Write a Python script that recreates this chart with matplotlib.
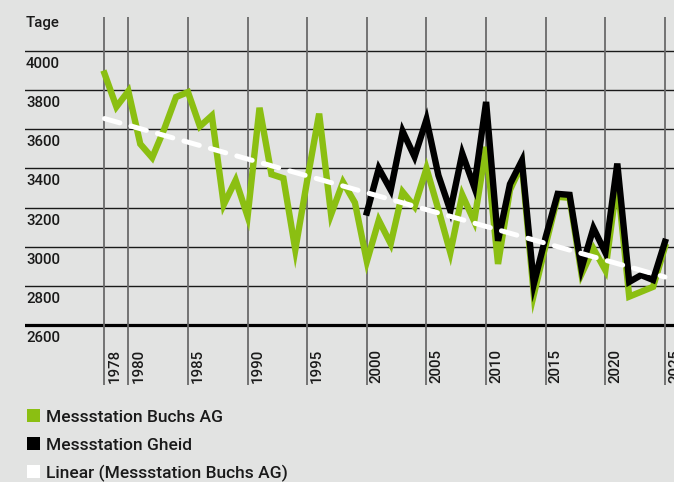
import matplotlib
matplotlib.use('Agg')
import matplotlib.pyplot as plt
import matplotlib.transforms as mtransforms
from matplotlib.patches import Rectangle

# data (Tage)
years_buchs = list(range(1978, 2026))
buchs = [3885, 3715, 3795, 3525, 3455, 3600, 3765, 3790, 3615, 3670,   # 1978-1987
         3215, 3340, 3155, 3710, 3370, 3350, 2985, 3340, 3680, 3165,   # 1988-1997
         3330, 3225, 2925, 3135, 3015, 3280, 3205, 3400, 3190, 2970,   # 1998-2007
         3265, 3130, 3510, 2912, 3290, 3420, 2755, 3010, 3255, 3250,   # 2008-2017
         2860, 2990, 2880, 3340, 2745, 2770, 2795, 3000]               # 2018-2025

years_gheid = list(range(2000, 2026))
gheid = [3175, 3400, 3290, 3590, 3460, 3650, 3365, 3185, 3476, 3306,
         3740, 3030, 3320, 3440, 2810, 3050, 3270, 3265, 2890, 3095,
         2970, 3425, 2820, 2855, 2830, 3025]

# linear trend of Buchs AG (endpoints)
trend_years = [1978, 2025]
trend_values = [3655, 2845]

year_ticks = [1978, 1980, 1985, 1990, 1995, 2000, 2005, 2010, 2015, 2020, 2025]
value_ticks = [2600, 2800, 3000, 3200, 3400, 3600, 3800, 4000]
labels = ['Messstation Buchs AG', 'Messstation Gheid', 'Linear (Messstation Buchs AG)']

green = '#8bbf12'
bg = '#e2e3e2'
txt = '#1a1a1a'
plt.rcParams['font.family'] = ['Roboto', 'DejaVu Sans']
plt.rcParams['font.weight'] = 'medium'

W, H = 674, 482
fig = plt.figure(figsize=(W / 100, H / 100), dpi=100, facecolor=bg)
ax = fig.add_axes([25 / W, 1 - 385 / H, 1 - 25 / W, 368 / H])
ax.set_facecolor(bg)
for s in ax.spines.values():
    s.set_visible(False)
ax.set_xticks([])
ax.set_yticks([])
ax.set_xlim(1971.334, 2025.755)
ax.set_ylim(2293.4, 4173.9)

# grid
for v in value_ticks[1:]:
    ax.axhline(v, color='#1a1a1a', lw=1.0, zorder=1)
ax.axhline(2600, color='black', lw=2.3, zorder=1)
for yr in year_ticks:
    ax.axvline(yr, color='#6a6a6a', lw=1.3, zorder=1)

# series
ax.plot(years_buchs, buchs, color=green, lw=4.6, solid_joinstyle='miter', zorder=3)
ax.plot(years_gheid, gheid, color='black', lw=4.6, solid_joinstyle='miter', zorder=4)
ax.plot(trend_years, trend_values, color='white', lw=3.6, dashes=(3.2, 2.3),
        dash_capstyle='round', zorder=5)

# value labels under each gridline
ytrans = mtransforms.offset_copy(
    mtransforms.blended_transform_factory(ax.transAxes, ax.transData),
    fig=fig, x=1, y=-6, units='dots')
for v in value_ticks:
    ax.text(0, v, str(v), transform=ytrans, ha='left', va='top',
            fontsize=10.8, color=txt)

# year labels, rotated, right of each vertical line
xtrans = mtransforms.offset_copy(
    mtransforms.blended_transform_factory(ax.transData, ax.transAxes),
    fig=fig, x=3, y=2, units='dots')
for yr in year_ticks:
    ax.text(yr, 0, str(yr), transform=xtrans, rotation=90, ha='left',
            va='bottom', fontsize=10.8, color=txt, clip_on=False)

fig.text(26 / W, 1 - 16 / H, 'Tage', ha='left', va='top', fontsize=10.8, color=txt)

# legend
colors = [green, 'black', 'white']
for i, (lab, c) in enumerate(zip(labels, colors)):
    yc = 415.5 + i * 28
    fig.patches.append(Rectangle((27 / W, 1 - (yc + 6.3) / H), 12.6 / W, 12.6 / H,
                                 transform=fig.transFigure, color=c, lw=0))
    fig.text(46 / W, 1 - yc / H, lab, ha='left', va='center_baseline',
             fontsize=12.5, color=txt)

fig.savefig('out.png', dpi=100, facecolor=bg)
